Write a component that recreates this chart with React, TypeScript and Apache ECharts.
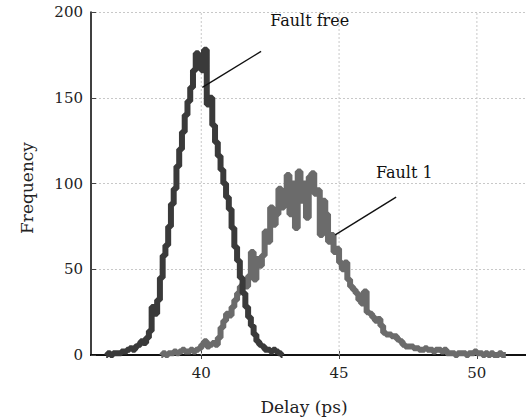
import React, { useEffect, useRef } from "react";
import * as echarts from "echarts";

// ---- data ----
const binWidth = 0.1;
const faultFreeStart = 36.5;
const faultFreeCounts = [
  0, 1, 0, 1, 1,
  1, 2, 2, 3, 4,
  3, 5, 6, 8, 7,
  10, 14, 28, 24, 32,
  45, 58, 64, 75, 88,
  97, 110, 120, 130, 140,
  148, 156, 166, 176, 168,
  166, 178, 146, 150, 134,
  124, 116, 108, 100, 92,
  85, 74, 63, 55, 45,
  36, 28, 22, 17, 12,
  8, 6, 5, 3, 3,
  2, 3, 2, 1, 0,
];
const faultOneStart = 38.5;
const faultOneCounts = [
  0, 1, 0, 1, 1,
  2, 1, 2, 3, 2,
  2, 3, 2, 3, 4,
  6, 8, 5, 6, 7,
  6, 10, 16, 20, 24,
  23, 28, 32, 36, 40,
  42, 40, 46, 60, 44,
  56, 52, 58, 72, 66,
  86, 76, 82, 97, 86,
  92, 105, 82, 100, 74,
  107, 90, 100, 80, 104,
  106, 94, 96, 70, 90,
  82, 66, 70, 60, 62,
  54, 50, 54, 44, 40,
  38, 36, 32, 30, 37,
  25, 24, 22, 20, 21,
  17, 13, 12, 12, 11,
  11, 9, 8, 6, 5,
  5, 5, 4, 4, 3,
  3, 4, 3, 3, 2,
  3, 3, 2, 3, 1,
  1, 1, 0, 1, 1,
  1, 0, 1, 1, 2,
  1, 1, 0, 1, 0,
  1, 0, 0, 1, 0,
  0,
];
const xTicks = [40, 45, 50];
const xRange = [36, 52];
const yRange = [0, 200];

// annotations: [pointer start, pointer end], text anchor
const faultFreePointer = [[40.04, 156], [42.17, 177]];
const faultFreeTextAt = [42.5, 195];
const faultOnePointer = [[44.86, 70], [47.07, 92]];
const faultOneTextAt = [46.34, 106.5];

const FONT = "DejaVu Serif";

function toPoints(start: number, counts: number[]) {
  return counts.map((c, i) => [start + (i + 0.5) * binWidth, c]);
}

export default function App() {
  const ref = useRef<HTMLDivElement>(null);
  useEffect(() => {
    if (!ref.current) return;
    const chart = echarts.init(ref.current, null, { renderer: "svg" });
    const gridSeries = xTicks.map((v) => ({
      type: "line",
      data: [[v, yRange[0]], [v, yRange[1]]],
      showSymbol: false,
      silent: true,
      z: 1,
      lineStyle: { color: "#c8c8c8", width: 1, type: [2, 2] },
    }));
    const pointer = (pts: number[][]) => ({
      type: "line",
      data: pts,
      showSymbol: false,
      silent: true,
      z: 6,
      lineStyle: { color: "#111", width: 1.4 },
    });
    chart.setOption({
      animation: false,
      grid: {
        left: 91,
        top: 12,
        right: 0,
        bottom: 64,
        outerBoundsMode: "none",
        containLabel: false,
        show: false,
      },
      xAxis: [
        {
          type: "value",
          min: xRange[0],
          max: xRange[1],
          position: "bottom",
          axisLine: { show: true, onZero: false, lineStyle: { color: "#000", width: 2 } },
          axisTick: { show: true, inside: true, length: 4, customValues: xTicks, lineStyle: { color: "#444" } },
          axisLabel: { customValues: xTicks, margin: 10, fontFamily: FONT, fontSize: 15, color: "#222" },
          splitLine: { show: false },
        },
        {
          type: "value",
          min: xRange[0],
          max: xRange[1],
          position: "top",
          axisLine: { show: true, lineStyle: { color: "#111", width: 2 } },
          axisTick: { show: true, inside: true, length: 4, customValues: xTicks, lineStyle: { color: "#444" } },
          axisLabel: { show: false },
          splitLine: { show: false },
        },
      ],
      yAxis: {
        type: "value",
        min: yRange[0],
        max: yRange[1],
        interval: 50,
        axisLine: { show: true, lineStyle: { color: "#000", width: 1.5 } },
        axisTick: { show: true, inside: true, length: 5, lineStyle: { color: "#444" } },
        axisLabel: { margin: 8, fontFamily: FONT, fontSize: 15, color: "#222" },
        splitLine: { show: true, lineStyle: { color: "#c8c8c8", width: 1, type: [2, 2] } },
      },
      series: [
        ...gridSeries,
        {
          name: "Fault 1",
          type: "line",
          step: "middle",
          data: toPoints(faultOneStart, faultOneCounts),
          showSymbol: false,
          z: 3,
          lineStyle: { color: "#6b6b6b", width: 6 },
        },
        {
          name: "Fault free",
          type: "line",
          step: "middle",
          data: toPoints(faultFreeStart, faultFreeCounts),
          showSymbol: false,
          z: 4,
          lineStyle: { color: "#3a3a3a", width: 6 },
        },
        pointer(faultFreePointer),
        pointer(faultOnePointer),
      ],
    });
    const p1 = chart.convertToPixel({ gridIndex: 0 }, faultFreeTextAt) as number[];
    const p2 = chart.convertToPixel({ gridIndex: 0 }, faultOneTextAt) as number[];
    chart.setOption({
      graphic: [
        {
          type: "text",
          x: p1[0],
          y: p1[1],
          style: { text: "Fault free", font: `16px "${FONT}"`, fill: "#111", textVerticalAlign: "middle", textAlign: "left" },
        },
        {
          type: "text",
          x: p2[0],
          y: p2[1],
          style: { text: "Fault 1", font: `16px "${FONT}"`, fill: "#111", textVerticalAlign: "middle", textAlign: "left" },
        },
        {
          type: "text",
          x: 304,
          y: 407,
          style: { text: "Delay (ps)", font: `17px "${FONT}"`, fill: "#222", textAlign: "center", textVerticalAlign: "middle" },
        },
        {
          type: "text",
          x: 27,
          y: 188,
          rotation: Math.PI / 2,
          style: { text: "Frequency", font: `17px "${FONT}"`, fill: "#222", textAlign: "center", textVerticalAlign: "middle" },
        },
      ],
    });
    return () => chart.dispose();
  }, []);
  return (
    <div style={{ position: "fixed", left: 0, top: 0, width: 526, height: 419, overflow: "hidden", background: "#fff" }}>
      <div ref={ref} style={{ position: "absolute", left: 0, top: 0, width: 532, height: 419 }} />
    </div>
  );
}
